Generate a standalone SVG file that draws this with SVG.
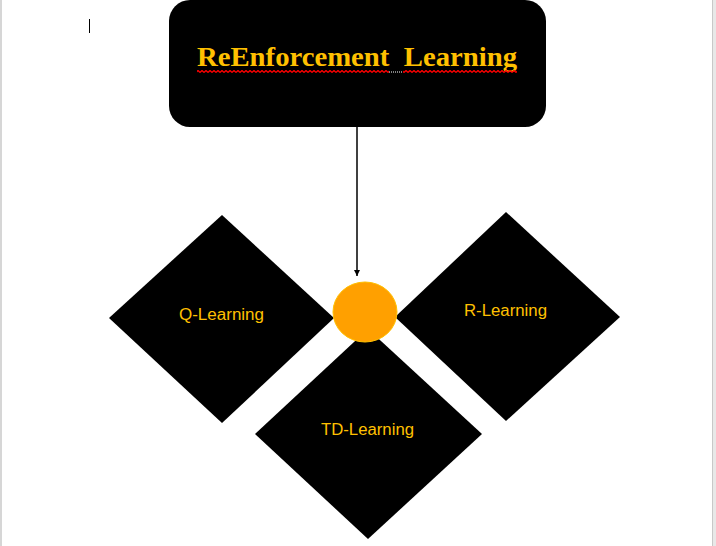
<svg xmlns="http://www.w3.org/2000/svg" width="716" height="546" viewBox="0 0 716 546">
  <defs>
    <style>
      .diamond { fill: #000000; }
      .label { font-family: "Liberation Sans", Carlito, Arial, sans-serif; font-size: 16px; fill: #FFC000; }
      .title { font-family: "Liberation Serif", "Times New Roman", serif; font-size: 27px; font-weight: bold; fill: #FFC000; white-space: pre; }
      .conn { stroke: #000000; stroke-width: 1.5; fill: none; }
    </style>
    <pattern id="squiggle" x="0" y="70" width="4" height="3" patternUnits="userSpaceOnUse">
      <path d="M0,2.5 L2,0.5 L4,2.5" fill="none" stroke="#ff0000" stroke-width="1.3"/>
    </pattern>
    <marker id="arrow" viewBox="0 0 10 10" refX="10" refY="5" markerWidth="6" markerHeight="6" markerUnits="userSpaceOnUse" orient="auto">
      <path d="M0,0 L10,5 L0,10 z" fill="#000000"/>
    </marker>
  </defs>

  <rect x="0" y="0" width="716" height="546" fill="#ffffff"/>
  <rect x="0" y="0" width="2" height="546" fill="#d6d6d6"/>
  <rect x="712" y="0" width="4" height="546" fill="#e8e8e8"/>
  <rect x="712" y="0" width="1" height="546" fill="#c8c8c8"/>

  <!-- text cursor -->
  <line x1="89.5" y1="19" x2="89.5" y2="33" stroke="#000000" stroke-width="1"/>

  <g id="node-title">
    <rect x="169" y="0" width="377" height="127" rx="21" ry="21" fill="#000000"/>
    <text class="title" x="197" y="66" textLength="320" lengthAdjust="spacingAndGlyphs" xml:space="preserve">ReEnforcement  Learning</text>
    <rect x="197" y="70" width="192" height="3" fill="url(#squiggle)"/>
    <line x1="389" y1="72" x2="402" y2="72" stroke="#ffffff" stroke-width="1" stroke-dasharray="1,1"/>
    <rect x="403" y="70" width="114" height="3" fill="url(#squiggle)"/>
  </g>

  <g id="connectors">
    <line class="conn" x1="357" y1="127" x2="357" y2="276" marker-end="url(#arrow)"/>
  </g>

  <g id="node-q-learning">
    <polygon class="diamond" points="222,215 334,318 222,423 109,318"/>
    <text class="label" x="221.5" y="320" text-anchor="middle" textLength="85" lengthAdjust="spacingAndGlyphs">Q-Learning</text>
  </g>

  <g id="node-r-learning">
    <polygon class="diamond" points="506,212 620,317 506,421 395,317"/>
    <text class="label" x="505.5" y="316" text-anchor="middle" textLength="83" lengthAdjust="spacingAndGlyphs">R-Learning</text>
  </g>

  <g id="node-td-learning">
    <polygon class="diamond" points="368,329 482,434 368,539 255,434"/>
    <text class="label" x="367.5" y="435" text-anchor="middle" textLength="93" lengthAdjust="spacingAndGlyphs">TD-Learning</text>
  </g>

  <g id="node-hub">
    <ellipse cx="365" cy="312" rx="32" ry="30" fill="#FFA000" stroke="#FFC000" stroke-width="1"/>
  </g>
</svg>
